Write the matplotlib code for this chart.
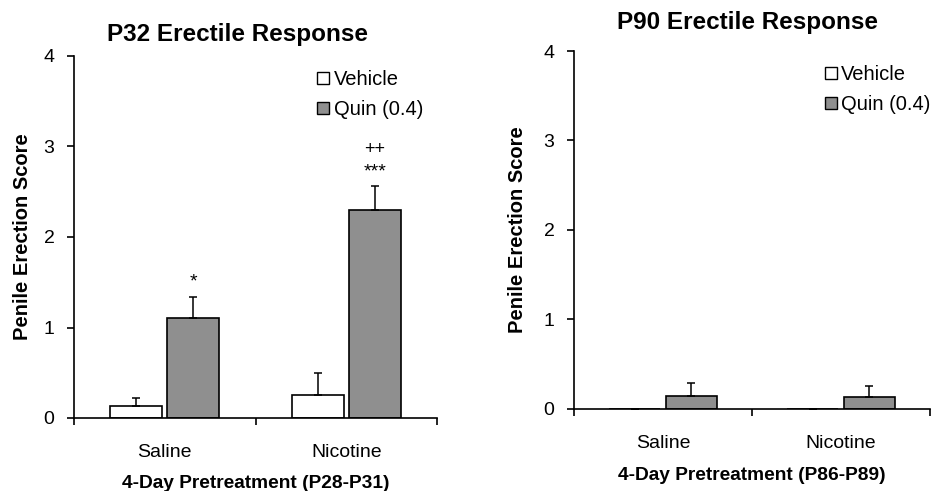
import matplotlib
matplotlib.use("Agg")
import matplotlib.pyplot as plt
from matplotlib.patches import Patch
import numpy as np

plt.rcParams['font.family'] = ['Liberation Sans', 'DejaVu Sans']

categories = ["Saline", "Nicotine"]
series = ["Vehicle", "Quin (0.4)"]

p32_vehicle = [0.13, 0.25]
p32_vehicle_err = [0.09, 0.25]
p32_quin = [1.10, 2.30]
p32_quin_err = [0.24, 0.26]

p90_vehicle = [0.0, 0.0]
p90_vehicle_err = [0.0, 0.0]
p90_quin = [0.145, 0.127]
p90_quin_err = [0.145, 0.123]

p32_sig = ["*", "***"]
p32_sig2 = ["", "++"]

titles = ["P32 Erectile Response", "P90 Erectile Response"]
xlabels = ["4-Day Pretreatment (P28-P31)", "4-Day Pretreatment (P86-P89)"]
ylabel = "Penile Erection Score"
yticks = [0, 1, 2, 3, 4]

veh_color = "white"
quin_color = "#8f8f8f"

fig = plt.figure(figsize=(9.38, 4.91), dpi=100)

axes_pos = [
    [74/938, 1-418/491, (437-74)/938, (418-56)/491],
    [574/938, 1-408.7/491, (930-574)/938, (408.7-51)/491],
]

datasets = [
    (p32_vehicle, p32_vehicle_err, p32_quin, p32_quin_err),
    (p90_vehicle, p90_vehicle_err, p90_quin, p90_quin_err),
]

x = np.arange(len(categories))
w = 0.287
off = 0.158

for i, (pos, data) in enumerate(zip(axes_pos, datasets)):
    ax = fig.add_axes(pos)
    veh, veh_e, quin, quin_e = data
    ekw = dict(ecolor="black", elinewidth=1.1, capsize=3, capthick=1.1)
    ax.bar(x - off, veh, w, color=veh_color, edgecolor="black", linewidth=1.2,
           yerr=[np.zeros(len(veh)), veh_e], error_kw=ekw, zorder=2)
    ax.bar(x + off, quin, w, color=quin_color, edgecolor="black", linewidth=1.2,
           yerr=[np.zeros(len(quin)), quin_e], error_kw=ekw, zorder=2)
    ax.set_xlim(-0.5, 1.5)
    ax.set_ylim(0, 4)
    ax.set_yticks(yticks)
    ax.set_xticks(x)
    ax.set_xticklabels(categories, fontsize=14)
    ax.set_xticks([-0.5, 0.5, 1.5], minor=True)
    ax.tick_params(axis='x', which='major', length=0, pad=19)
    ax.tick_params(axis='x', which='minor', length=5, width=1.2, direction='out')
    ax.tick_params(axis='y', length=5, width=1.2, direction='out', pad=9, labelsize=14)
    for s in ['top', 'right']:
        ax.spines[s].set_visible(False)
    for s in ['left', 'bottom']:
        ax.spines[s].set_linewidth(1.2)
    if i == 0:
        ax.set_title(titles[i], fontsize=17.5, fontweight='bold', pad=11, x=0.45)
    else:
        ax.set_title(titles[i], fontsize=17.5, fontweight='bold', pad=16, x=0.487)
    ax.set_xlabel(xlabels[i], fontsize=13.8, fontweight='bold', labelpad=10 if i == 0 else 11)
    ax.set_ylabel(ylabel, fontsize=14.5, fontweight='bold', labelpad=8 if i == 0 else 12)
    handles = [Patch(facecolor=veh_color, edgecolor="black", linewidth=1.0),
               Patch(facecolor=quin_color, edgecolor="black", linewidth=1.0)]
    ax.legend(handles, series, loc='upper right', bbox_to_anchor=(1.0, 1.0) if i == 0 else (1.04, 1.0),
              frameon=False, fontsize=14.5, handlelength=0.6, handleheight=0.6,
              handletextpad=0.2, labelspacing=0.55, borderaxespad=0.3)
    if i == 0:
        for j in range(len(categories)):
            top = quin[j] + quin_e[j]
            ax.text(x[j] + off, top + 0.16, p32_sig[j], ha='center', va='center', fontsize=14)
            if p32_sig2[j]:
                ax.text(x[j] + off, top + 0.41, p32_sig2[j], ha='center', va='center', fontsize=13)

fig.savefig("out.png", dpi=100)
